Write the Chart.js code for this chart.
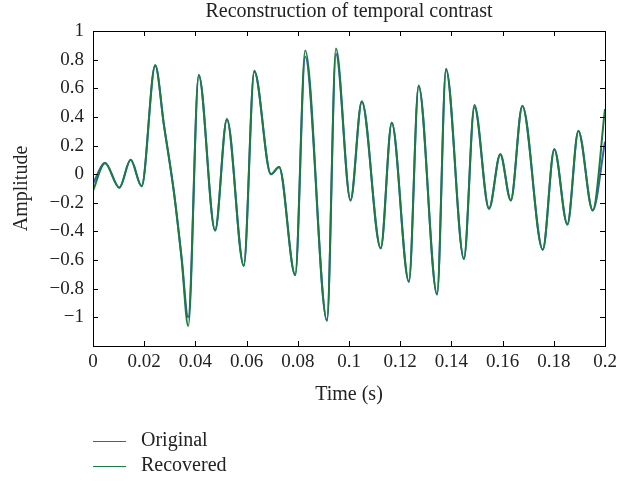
<!DOCTYPE html>
<html>
<head>
<meta charset="utf-8">
<script src="https://cdn.jsdelivr.net/npm/chart.js@4"></script>
<style>
  body { margin: 0; background: #fff; }
  #wrap { position: relative; width: 639px; height: 483px; }
  #legend { position: absolute; left: 93px; top: 427px; font: 20px "Liberation Serif", serif; color: #222; }
  #legend div { height: 25px; line-height: 25px; white-space: nowrap; }
  #legend span { display: inline-block; width: 33px; vertical-align: middle; margin-right: 15px; }
</style>
</head>
<body>
<div id="wrap">
  <canvas id="chart"></canvas>
  <div id="legend"></div>
</div>
<script>
// tidpunkter (s) for extremvärden i kurvan
const timeValues = [
  0.0000, 0.0047, 0.0103, 0.0147, 0.0190, 0.0243, 0.0277, 0.0316, 0.0346, 0.0372,
  0.0413, 0.0477, 0.0523, 0.0589, 0.0630, 0.0695, 0.0727, 0.0790, 0.0829, 0.0914,
  0.0949, 0.1006, 0.1050, 0.1124, 0.1167, 0.1234, 0.1272, 0.1344, 0.1379, 0.1449,
  0.1490, 0.1547, 0.1591, 0.1632, 0.1677, 0.1757, 0.1802, 0.1853, 0.1896, 0.1952,
  0.2000
];

// återskapad signal (grön)
const recoveredValues = [
  -0.115, 0.078, -0.094, 0.100, -0.084, 0.760, 0.344, -0.124, -0.592, -1.060,
  0.695, -0.393, 0.384, -0.639, 0.723, 0.000, 0.050, -0.704, 0.863, -1.025,
  0.877, -0.183, 0.508, -0.517, 0.360, -0.751, 0.620, -0.840, 0.737, -0.592,
  0.484, -0.241, 0.140, -0.183, 0.477, -0.527, 0.175, -0.351, 0.302, -0.253,
  0.455
];

// originalsignal (blå), syns bara där den skiljer sig
const originalValues = [
  -0.065, 0.078, -0.094, 0.100, -0.084, 0.760, 0.344, -0.124, -0.580, -1.000,
  0.690, -0.393, 0.384, -0.639, 0.715, 0.000, 0.050, -0.704, 0.820, -1.020,
  0.840, -0.183, 0.508, -0.517, 0.360, -0.751, 0.615, -0.840, 0.730, -0.592,
  0.468, -0.241, 0.140, -0.183, 0.477, -0.527, 0.175, -0.351, 0.302, -0.253,
  0.227
];

const xTicks = [0, 0.02, 0.04, 0.06, 0.08, 0.1, 0.12, 0.14, 0.16, 0.18, 0.2];
const yTicks = [-1, -0.8, -0.6, -0.4, -0.2, 0, 0.2, 0.4, 0.6, 0.8, 1];

const serif = '"Liberation Serif", "Times New Roman", serif';
const minus = (s) => s.replace('-', '\u2212');

const toPoints = (vals) => timeValues.map((t, i) => ({ x: t, y: vals[i] }));

const datasets = [
  {
    label: 'Original',
    data: toPoints(originalValues),
    borderColor: '#3c5cb4',
    borderWidth: 2,
    order: 1
  },
  {
    label: 'Recovered',
    data: toPoints(recoveredValues),
    borderColor: '#1b7c3f',
    borderWidth: 2,
    order: 0
  }
];

// ram runt ritytan och inåtvända tickmarkeringar på alla fyra sidor
const framePlugin = {
  id: 'frame',
  afterDatasetsDraw(chart) {
    const { ctx, chartArea: a, scales } = chart;
    ctx.save();
    ctx.strokeStyle = '#000';
    ctx.lineWidth = 1;
    ctx.beginPath();
    xTicks.forEach((v) => {
      const px = Math.round(scales.x.getPixelForValue(v)) + 0.5;
      ctx.moveTo(px, a.bottom); ctx.lineTo(px, a.bottom - 5);
      ctx.moveTo(px, a.top); ctx.lineTo(px, a.top + 5);
    });
    yTicks.forEach((v) => {
      const py = Math.round(scales.y.getPixelForValue(v)) + 0.5;
      ctx.moveTo(a.left, py); ctx.lineTo(a.left + 5, py);
      ctx.moveTo(a.right, py); ctx.lineTo(a.right - 5, py);
    });
    ctx.stroke();
    ctx.strokeRect(Math.round(a.left) + 0.5, Math.round(a.top) + 0.5,
      Math.round(a.right - a.left), Math.round(a.bottom - a.top));
    ctx.restore();
  }
};

const config = {
  type: 'line',
  data: { datasets },
  options: {
    responsive: true,
    maintainAspectRatio: false,
    animation: false,
    layout: { padding: { left: 0, right: 34, top: 0, bottom: 76 } },
    elements: {
      point: { radius: 0 },
      line: { cubicInterpolationMode: 'monotone' }
    },
    plugins: {
      legend: { display: false },
      tooltip: { enabled: false },
      title: {
        display: true,
        text: 'Reconstruction of temporal contrast',
        fullSize: false,
        color: '#222',
        font: { family: serif, size: 20, weight: 'normal' },
        padding: { top: 0, bottom: 7 }
      }
    },
    scales: {
      x: {
        type: 'linear',
        min: 0,
        max: 0.2,
        afterBuildTicks: (s) => { s.ticks = xTicks.map((v) => ({ value: v })); },
        afterFit: (s) => { s.height = 61; },
        grid: { display: false, drawTicks: false },
        border: { display: false },
        ticks: {
          autoSkip: false,
          maxRotation: 0,
          padding: 5,
          color: '#222',
          font: { family: serif, size: 19 },
          callback: (v) => minus(String(parseFloat(v.toFixed(2))))
        },
        title: {
          display: true,
          text: 'Time (s)',
          color: '#222',
          font: { family: serif, size: 20 },
          padding: 0
        }
      },
      y: {
        min: -1.2,
        max: 1,
        afterBuildTicks: (s) => { s.ticks = yTicks.map((v) => ({ value: v })); },
        afterFit: (s) => { s.width = 93; },
        grid: { display: false, drawTicks: false },
        border: { display: false },
        ticks: {
          padding: 9,
          color: '#222',
          font: { family: serif, size: 19 },
          callback: (v) => minus(String(parseFloat(v.toFixed(1))))
        },
        title: {
          display: true,
          text: 'Amplitude',
          color: '#222',
          font: { family: serif, size: 20 },
          padding: { top: 10, bottom: 0 }
        }
      }
    }
  },
  plugins: [framePlugin]
};

const canvas = document.getElementById('chart');
const chart = new Chart(canvas, config);

// förklaring under diagrammet, en rad per dataserie
const legend = document.getElementById('legend');
chart.data.datasets.forEach((ds) => {
  const row = document.createElement('div');
  const line = document.createElement('span');
  line.style.borderTop = '1.5px solid ' + ds.borderColor;
  row.appendChild(line);
  row.appendChild(document.createTextNode(ds.label));
  legend.appendChild(row);
});
</script>
</body>
</html>
